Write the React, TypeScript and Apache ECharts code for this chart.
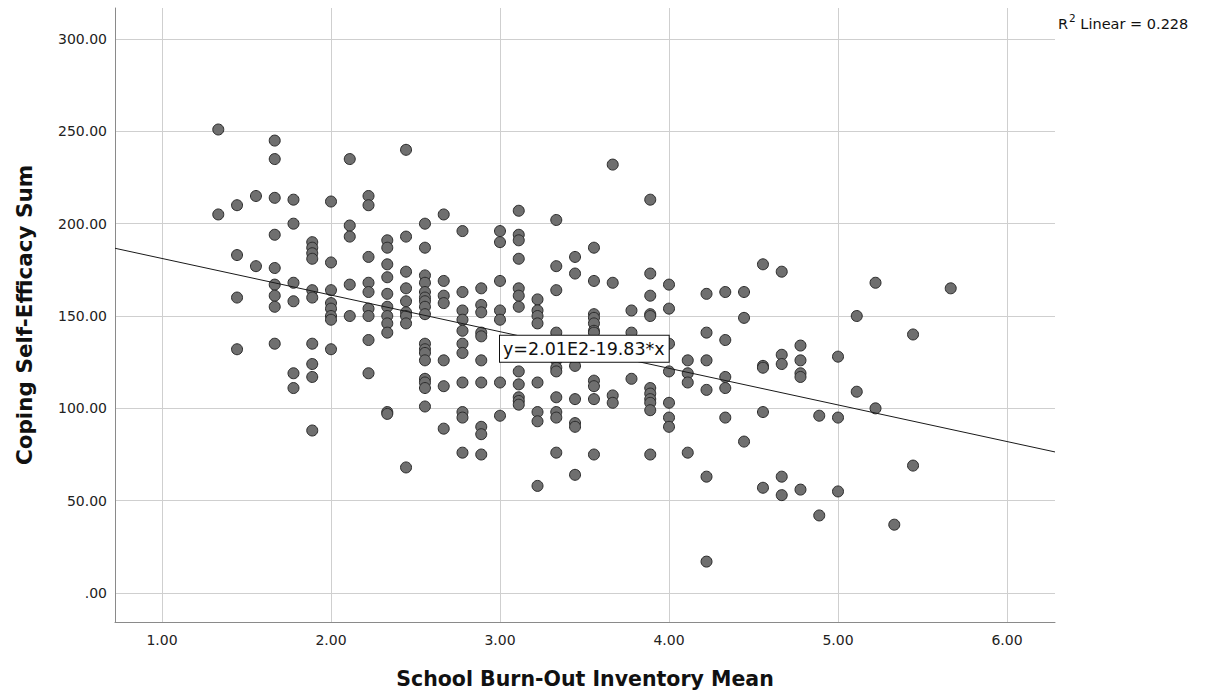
import React, { useEffect, useRef } from "react";
import * as echarts from "echarts";

// School Burn-Out Inventory Mean (one value per column of points)
const xColumns: number[] = [
  1.333, 1.444, 1.556, 1.667, 1.778, 1.889, 2.0, 2.111, 2.222, 2.333, 2.444, 2.556, 2.667,
  2.778, 2.889, 3.0, 3.111, 3.222, 3.333, 3.444, 3.556, 3.667, 3.778, 3.889, 4.0, 4.111,
  4.222, 4.333, 4.444, 4.556, 4.667, 4.778, 4.889, 5.0, 5.111, 5.222, 5.333, 5.444, 5.667,
];
// Coping Self-Efficacy Sum values in each column
const yColumns: number[][] = [
  [251, 205],
  [210, 183, 160, 132],
  [215, 177],
  [245, 235, 214, 194, 176, 167, 161, 155, 135],
  [213, 200, 168, 158, 119, 111],
  [190, 187, 184, 181, 164, 160, 135, 124, 117, 88],
  [212, 179, 164, 157, 154, 150, 148, 132],
  [235, 199, 193, 167, 150],
  [215, 210, 182, 168, 163, 154, 150, 137, 119],
  [191, 187, 178, 171, 162, 155, 150, 146, 141, 98, 97],
  [240, 193, 174, 165, 158, 152, 150, 146, 68],
  [200, 187, 172, 168, 163, 160, 158, 155, 151, 135, 132, 130, 126, 116, 114, 111, 101],
  [205, 169, 161, 157, 126, 112, 89],
  [196, 163, 153, 148, 142, 135, 130, 114, 98, 95, 76],
  [165, 156, 152, 141, 139, 126, 114, 90, 86, 75],
  [196, 190, 169, 153, 148, 114, 96],
  [207, 194, 191, 181, 165, 161, 155, 120, 113, 106, 104, 102],
  [159, 153, 150, 146, 114, 98, 93, 58],
  [202, 177, 164, 141, 136, 132, 129, 126, 122, 120, 106, 98, 95, 76],
  [182, 173, 123, 105, 92, 90, 64],
  [187, 169, 151, 149, 146, 142, 141, 115, 112, 105, 75],
  [232, 168, 107, 103],
  [153, 141, 116],
  [213, 173, 161, 151, 150, 111, 108, 105, 103, 99, 75],
  [167, 154, 135, 120, 103, 95, 90],
  [126, 119, 114, 76],
  [162, 141, 126, 110, 63, 17],
  [163, 137, 117, 111, 95],
  [163, 149, 82],
  [178, 123, 122, 98, 57],
  [174, 129, 124, 63, 53],
  [134, 126, 119, 117, 56],
  [96, 42],
  [128, 95, 55],
  [150, 109],
  [168, 100],
  [37],
  [140, 69],
  [165],
];

const xTicks: number[] = [1, 2, 3, 4, 5, 6];
const yTicks: number[] = [0, 50, 100, 150, 200, 250, 300];
const xMin = 0.7219;
const xMax = 6.284;
const yMin = -15.7;
const yMax = 316.8;

const intercept = 201;
const slope = -19.83;
const equationText = "y=2.01E2-19.83*x";
const equationAnchor: [number, number] = [3.0, 132.3];
const rSquaredText = "0.228";

const font = "'DejaVu Sans', 'Liberation Sans', sans-serif";

export default function App() {
  const ref = useRef<HTMLDivElement>(null);
  useEffect(() => {
    if (!ref.current) return;
    const chart = echarts.init(ref.current, undefined, { renderer: "svg" });
    const points: [number, number][] = [];
    xColumns.forEach((x, i) => {
      yColumns[i].forEach((v) => points.push([x, v]));
    });
    const fitLine: [number, number][] = [
      [xMin, intercept + slope * xMin],
      [xMax, intercept + slope * xMax],
    ];
    chart.setOption({
      animation: false,
      backgroundColor: "#ffffff",
      textStyle: { fontFamily: font },
      grid: { left: 115, right: 151, top: 8, bottom: 75, containLabel: false },
      xAxis: {
        type: "value",
        min: xMin,
        max: xMax,
        name: "School Burn-Out Inventory Mean",
        nameLocation: "middle",
        nameGap: 46,
        nameTextStyle: { fontFamily: font, fontSize: 20.5, fontWeight: "bold", color: "#111" },
        axisLine: { show: true, onZero: false, lineStyle: { color: "#8a8a8a", width: 1 } },
        axisTick: { show: false, customValues: xTicks },
        axisLabel: {
          customValues: xTicks,
          formatter: (v: number) => v.toFixed(2),
          fontFamily: font,
          fontSize: 14,
          color: "#222",
          margin: 11,
        },
        splitLine: { show: true, lineStyle: { color: "#cfcfcf", width: 1 } },
      },
      yAxis: {
        type: "value",
        min: yMin,
        max: yMax,
        name: "Coping Self-Efficacy Sum",
        nameLocation: "middle",
        nameGap: 80,
        nameTextStyle: { fontFamily: font, fontSize: 21.5, fontWeight: "bold", color: "#111" },
        axisLine: { show: true, onZero: false, lineStyle: { color: "#8a8a8a", width: 1 } },
        axisTick: { show: false, customValues: yTicks },
        axisLabel: {
          customValues: yTicks,
          formatter: (v: number) => (v === 0 ? ".00" : v.toFixed(2)),
          fontFamily: font,
          fontSize: 14,
          color: "#222",
          margin: 8,
        },
        splitLine: { show: true, lineStyle: { color: "#cfcfcf", width: 1 } },
      },
      series: [
        {
          type: "scatter",
          data: points,
          symbol: "circle",
          symbolSize: 11,
          itemStyle: { color: "#6f6f6f", borderColor: "#2b2b2b", borderWidth: 1, opacity: 1 },
          z: 3,
        },
        {
          type: "line",
          data: fitLine,
          symbol: "none",
          lineStyle: { color: "#1a1a1a", width: 1 },
          z: 4,
          markPoint: {
            symbol: "rect",
            symbolSize: 0,
            data: [{ coord: equationAnchor, value: equationText }],
            label: {
              show: true,
              position: "right",
              distance: 0,
              formatter: equationText,
              fontFamily: font,
              fontSize: 17.5,
              color: "#111",
              backgroundColor: "#ffffff",
              borderColor: "#111",
              borderWidth: 1,
              padding: [4, 4, 4, 3],
            },
            z: 6,
          },
        },
      ],
      graphic: [
        {
          type: "text",
          left: 1058,
          top: 12,
          style: {
            text: "{a|R}{s|2}{a| Linear = " + rSquaredText + "}",
            rich: {
              a: { fontFamily: font, fontSize: 14.5, fill: "#111", verticalAlign: "bottom", lineHeight: 19 },
              s: { fontFamily: font, fontSize: 10.5, fill: "#111", verticalAlign: "top", lineHeight: 19, padding: [0, 0, 8, 1] },
            },
          },
        },
      ],
    });
    return () => chart.dispose();
  }, []);
  return (
    <div
      ref={ref}
      style={{ position: "fixed", left: 0, top: 0, width: 1206, height: 697, background: "#fff" }}
    />
  );
}
